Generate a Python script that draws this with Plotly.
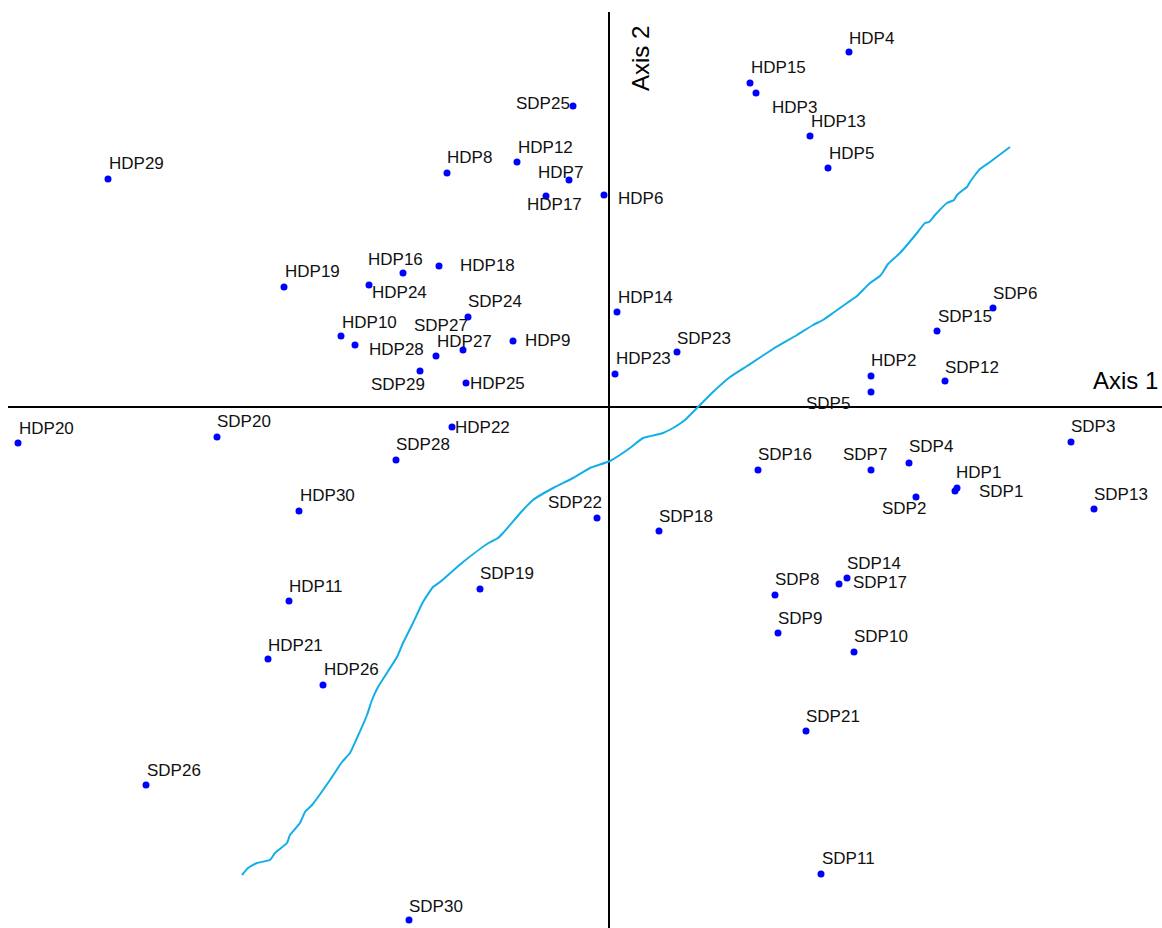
import plotly.graph_objects as go

# Point labels and coordinates (Axis 1, Axis 2)
labels = [
    "HDP1", "HDP2", "HDP3", "HDP4", "HDP5", "HDP6", "HDP7", "HDP8", "HDP9", "HDP10",
    "HDP11", "HDP12", "HDP13", "HDP14", "HDP15", "HDP16", "HDP17", "HDP18", "HDP19", "HDP20",
    "HDP21", "HDP22", "HDP23", "HDP24", "HDP25", "HDP26", "HDP27", "HDP28", "HDP29", "HDP30",
    "SDP1", "SDP2", "SDP3", "SDP4", "SDP5", "SDP6", "SDP7", "SDP8", "SDP9", "SDP10",
    "SDP11", "SDP12", "SDP13", "SDP14", "SDP15", "SDP16", "SDP17", "SDP18", "SDP19", "SDP20",
    "SDP21", "SDP22", "SDP23", "SDP24", "SDP25", "SDP26", "SDP27", "SDP28", "SDP29", "SDP30",
]
axis1 = [
    3.48, 2.62, 1.47, 2.40, 2.19, -0.05, -0.40, -1.62, -0.96, -2.68,
    -3.20, -0.92, 2.01, 0.08, 1.41, -2.06, -0.63, -1.70, -3.25, -5.91,
    -3.41, -1.57, 0.06, -2.40, -1.43, -2.86, -1.73, -2.54, -5.01, -3.10,
    3.46, 3.07, 4.62, 3.00, 2.62, 3.84, 2.62, 1.66, 1.69, 2.45,
    2.12, 3.36, 4.85, 2.38, 3.28, 1.49, 2.30, 0.50, -1.29, -3.92,
    1.97, -0.12, 0.68, -1.41, -0.36, -4.63, -1.46, -2.13, -1.89, -2.00,
]
axis2 = [
    -0.81, 0.31, 3.14, 3.55, 2.39, 2.12, 2.27, 2.34, 0.66, 0.71,
    -1.94, 2.45, 2.71, 0.95, 3.24, 1.34, 2.11, 1.41, 1.20, -0.36,
    -2.52, -0.20, 0.33, 1.22, 0.24, -2.78, 0.51, 0.62, 2.28, -1.04,
    -0.84, -0.90, -0.35, -0.56, 0.15, 0.99, -0.63, -1.88, -2.26, -2.45,
    -4.67, 0.26, -1.02, -1.71, 0.76, -0.63, -1.77, -1.24, -1.82, -0.30,
    -3.24, -1.11, 0.55, 0.90, 3.01, -3.78, 0.57, -0.53, 0.36, -5.13,
]

# Label placement (style): offset of the label centre from its point, in pixels (right, up)
label_dx = [
    21, 22, 38, 22, 23, 36, -9, 22, 34, 28,
    27, 28, 28, 28, 28, -8, 8, 48, 28, 28,
    27, 30, 28, 30, 31, 28, 28, 41, 28, 28,
    46, -12, 22, 22, -43, 22, -6, 22, 22, 27,
    27, 27, 27, 27, 28, 27, 41, 27, 27, 27,
    27, -22, 27, 27, -30, 28, -22, 27, -22, 27,
]
label_dy = [
    16, 16, -14, 14, 15, -3, 8, 16, 1, 14,
    15, 15, 15, 15, 16, 14, -8, 1, 16, 15,
    14, 0, 16, -7, 0, 16, 15, -4, 16, 16,
    0, -11, 16, 17, -11, 15, 16, 16, 15, 16,
    16, 14, 15, 15, 15, 16, 2, 15, 16, 16,
    15, 16, 14, 16, 3, 15, 25, 16, -13, 14,
]

# Hand-drawn separating curve
curve_x = [
    -3.67, -3.61, -3.52, -3.39, -3.34, -3.22, -3.19, -3.09, -3.04, -2.97,
    -2.79, -2.67, -2.59, -2.52, -2.42, -2.37, -2.31, -2.12, -2.06, -1.97,
    -1.86, -1.76, -1.69, -1.46, -1.22, -1.11, -1.06, -0.86, -0.76, -0.54,
    -0.36, -0.19, 0.01, 0.21, 0.34, 0.54, 0.64, 0.76, 0.89, 1.04,
    1.21, 1.38, 1.64, 1.88, 2.04, 2.14, 2.24, 2.38, 2.48, 2.61,
    2.71, 2.74, 2.79, 2.91, 3.08, 3.16, 3.20, 3.26, 3.38, 3.45,
    3.48, 3.54, 3.58, 3.61, 3.66, 3.71, 3.81, 4.01,
]
curve_y = [
    -4.68, -4.61, -4.56, -4.53, -4.46, -4.36, -4.28, -4.16, -4.05, -3.98,
    -3.73, -3.55, -3.46, -3.31, -3.08, -2.93, -2.80, -2.50, -2.36, -2.18,
    -1.95, -1.80, -1.75, -1.55, -1.37, -1.31, -1.26, -1.03, -0.93, -0.80,
    -0.71, -0.61, -0.54, -0.41, -0.31, -0.26, -0.21, -0.13, 0.00, 0.15,
    0.30, 0.41, 0.58, 0.72, 0.82, 0.87, 0.94, 1.04, 1.11, 1.24,
    1.31, 1.35, 1.43, 1.54, 1.74, 1.84, 1.85, 1.92, 2.04, 2.07,
    2.12, 2.17, 2.20, 2.25, 2.32, 2.38, 2.45, 2.60,
]

x_range = [-6.09, 5.53]
y_range = [-5.21, 4.07]
FONT = "Liberation Sans, Arial, sans-serif"

fig = go.Figure()

fig.add_trace(go.Scatter(
    x=curve_x, y=curve_y, mode="lines",
    line=dict(color="#12aee8", width=2, shape="spline", smoothing=0.4),
    hoverinfo="skip", showlegend=False,
))

fig.add_trace(go.Scatter(
    x=axis1, y=axis2, mode="markers",
    marker=dict(color="#0000ff", size=7),
    cliponaxis=False, showlegend=False,
))

for lab, xv, yv, dx, dy in zip(labels, axis1, axis2, label_dx, label_dy):
    fig.add_annotation(x=xv, y=yv, xref="x", yref="y", text=lab, showarrow=False,
                       xanchor="center", yanchor="middle", xshift=dx, yshift=dy,
                       font=dict(family=FONT, size=17, color="#111111"))

# Axis lines through the origin
fig.add_shape(type="line", x0=-6.01, x1=x_range[1], y0=0, y1=0,
              line=dict(color="black", width=2), layer="below")
fig.add_shape(type="line", x0=0, x1=0, y0=3.95, y1=y_range[0],
              line=dict(color="black", width=2), layer="below")

fig.add_annotation(x=x_range[1], y=0, xref="x", yref="y", text="Axis 1",
                   showarrow=False, xanchor="right", yanchor="middle",
                   xshift=-2, yshift=27,
                   font=dict(family=FONT, size=24, color="black"))
fig.add_annotation(x=0, y=3.51, xref="x", yref="y", text="Axis 2",
                   showarrow=False, textangle=-90, xanchor="center", yanchor="middle",
                   xshift=31, yshift=-3,
                   font=dict(family=FONT, size=24, color="black"))

fig.update_layout(
    width=1162, height=928,
    margin=dict(l=0, r=0, t=0, b=0),
    paper_bgcolor="white", plot_bgcolor="white",
    xaxis=dict(range=x_range, visible=False, fixedrange=True),
    yaxis=dict(range=y_range, visible=False, fixedrange=True),
    hovermode=False,
)

fig.write_html("out.html", config={"displayModeBar": False},
               post_script="document.body.style.margin='0';")
